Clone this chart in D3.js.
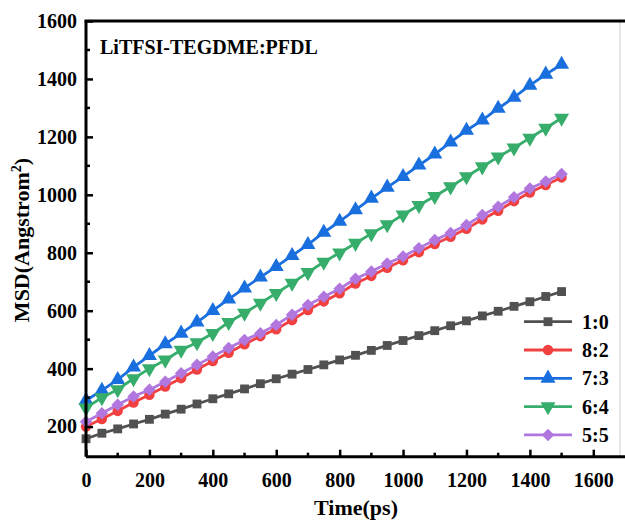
<!DOCTYPE html>
<html>
<head>
<meta charset="utf-8">
<script src="https://cdn.jsdelivr.net/npm/d3@7"></script>
<style>
  body { margin: 0; background: #fff; }
  svg text { font-family: "Liberation Serif", "Times New Roman", serif; font-weight: bold; fill: #000; }
</style>
</head>
<body>
<div id="chart"></div>
<script>
"use strict";

// time points (ps)
var times = [0, 50, 100, 150, 200, 250, 300, 350, 400, 450, 500, 550, 600, 650, 700, 750,
             800, 850, 900, 950, 1000, 1050, 1100, 1150, 1200, 1250, 1300, 1350, 1400, 1450, 1500];

// MSD values
var msd10 = [158, 177, 192, 209, 225, 243, 260, 278, 296, 313, 330, 348, 365, 381, 397, 413,
             430, 446, 463, 480, 497, 514, 531, 548, 565, 582, 598, 615, 631, 649, 666];
var msd82 = [200, 226, 254, 283, 310, 338, 367, 397, 426, 455, 484, 512, 536, 568, 602, 632,
             660, 694, 720, 748, 774, 802, 830, 855, 883, 915, 945, 978, 1008, 1034, 1060];
var msd73 = [290, 325, 362, 405, 445, 485, 522, 560, 600, 640, 678, 716, 752, 790, 828, 870,
             908, 948, 988, 1026, 1063, 1102, 1140, 1182, 1222, 1258, 1298, 1336, 1378, 1416, 1450];
var msd64 = [265, 300, 328, 366, 400, 430, 464, 490, 522, 560, 592, 626, 660, 695, 732, 768,
             800, 833, 866, 897, 931, 964, 995, 1028, 1063, 1097, 1131, 1162, 1196, 1230, 1265];
var msd55 = [217, 246, 275, 304, 327, 355, 384, 413, 442, 471, 499, 522, 551, 586, 620, 648,
             676, 710, 735, 763, 787, 816, 844, 868, 896, 930, 959, 992, 1022, 1046, 1072];

var seriesNames = ["1:0", "8:2", "7:3", "6:4", "5:5"];
var seriesValues = [msd10, msd82, msd73, msd64, msd55];
var seriesColors = ["#515151", "#F14040", "#1A6FDF", "#37AD6B", "#B177DE"];

var xTicks = [0, 200, 400, 600, 800, 1000, 1200, 1400, 1600];
var yTicks = [200, 400, 600, 800, 1000, 1200, 1400, 1600];

var W = 625, H = 521;
var plotLeft = 86, plotTop = 21, plotBottom = 456.7;

var x = d3.scaleLinear().domain([0, 1700]).range([plotLeft, 625]);
var y = d3.scaleLinear().domain([96, 1600]).range([plotBottom, plotTop]);

var svg = d3.select("#chart").append("svg")
  .attr("width", W).attr("height", H);

// marker shapes for each series
function markerPath(i) {
  if (i === 0) return d3.symbol(d3.symbolSquare, 78)();
  if (i === 1) return d3.symbol(d3.symbolCircle, 85)();
  if (i === 2 || i === 3) return d3.symbol(d3.symbolTriangle, 98)();
  return d3.symbol(d3.symbolSquare, 78)();
}
function markerRot(i) {
  if (i === 3) return 180;
  if (i === 4) return 45;
  return 0;
}

// faint right edge
svg.append("line")
  .attr("x1", 620).attr("x2", 620).attr("y1", plotTop).attr("y2", plotBottom)
  .attr("stroke", "#d0d0d0").attr("stroke-width", 1);

// series
var line = d3.line()
  .x(function(d) { return x(d[0]); })
  .y(function(d) { return y(d[1]); });

seriesValues.forEach(function(vals, i) {
  var pts = times.map(function(t, k) { return [t, vals[k]]; });
  var g = svg.append("g");
  g.append("path")
    .datum(pts)
    .attr("d", line)
    .attr("fill", "none")
    .attr("stroke", seriesColors[i])
    .attr("stroke-width", 2.8);
  g.selectAll("path.mk").data(pts)
    .join("path")
      .attr("class", "mk")
      .attr("d", markerPath(i))
      .attr("transform", function(d) {
        return "translate(" + x(d[0]) + "," + y(d[1]) + ") rotate(" + markerRot(i) + ")";
      })
      .attr("fill", seriesColors[i]);
});

// axes, ticks inward
var xAxis = d3.axisBottom(x).tickValues(xTicks).tickSize(-7).tickPadding(16)
  .tickFormat(d3.format("d"));
var gx = svg.append("g")
  .attr("transform", "translate(0," + plotBottom + ")")
  .call(xAxis);
var xMinor = d3.range(100, 1700, 200);
gx.selectAll(".minor").data(xMinor).join("line")
  .attr("class", "minor")
  .attr("x1", d => x(d)).attr("x2", d => x(d))
  .attr("y1", 0).attr("y2", -4)
  .attr("stroke", "#000").attr("stroke-width", 2.5);

var yAxis = d3.axisLeft(y).tickValues(yTicks).tickSize(-7).tickPadding(9)
  .tickFormat(d3.format("d"));
var gy = svg.append("g")
  .attr("transform", "translate(" + plotLeft + ",0)")
  .call(yAxis);
var yMinor = d3.range(300, 1600, 200);
gy.selectAll(".minor").data(yMinor).join("line")
  .attr("class", "minor")
  .attr("x1", 0).attr("x2", 4)
  .attr("y1", d => y(d)).attr("y2", d => y(d))
  .attr("stroke", "#000").attr("stroke-width", 2.5);

[gx, gy].forEach(function(g) {
  g.select(".domain").attr("stroke", "#000").attr("stroke-width", 3);
  g.selectAll(".tick line").attr("stroke", "#000").attr("stroke-width", 2.5);
  g.selectAll(".tick text")
    .style("font-family", "'Liberation Serif', serif")
    .style("font-weight", "bold")
    .style("font-size", "20px")
    .attr("fill", "#000");
});
gx.select(".domain").attr("d", "M" + plotLeft + ",0H625");
gy.select(".domain").attr("d", "M0," + plotBottom + "V" + plotTop);

// top border
svg.append("line")
  .attr("x1", plotLeft - 1.5).attr("x2", 625).attr("y1", plotTop).attr("y2", plotTop)
  .attr("stroke", "#000").attr("stroke-width", 3);

// annotation
svg.append("text")
  .attr("x", 100).attr("y", 54)
  .style("font-size", "20px")
  .text("LiTFSI-TEGDME:PFDL");

// axis titles
svg.append("text")
  .attr("x", 356).attr("y", 515)
  .attr("text-anchor", "middle")
  .style("font-size", "22px")
  .text("Time(ps)");

var yt = svg.append("text")
  .attr("transform", "translate(29,240) rotate(-90)")
  .attr("text-anchor", "middle")
  .style("font-size", "22px");
yt.append("tspan").text("MSD(Angstrom");
yt.append("tspan").attr("dy", -8).style("font-size", "14px").text("2");
yt.append("tspan").attr("dy", 8).text(")");

// legend
var legY = [321.7, 350, 378.3, 406.6, 434.9];
var leg = svg.append("g");
seriesNames.forEach(function(name, i) {
  var ly = legY[i];
  leg.append("line")
    .attr("x1", 524).attr("x2", 572).attr("y1", ly).attr("y2", ly)
    .attr("stroke", seriesColors[i]).attr("stroke-width", 2.8);
  leg.append("path")
    .attr("d", markerPath(i))
    .attr("transform", "translate(548," + ly + ") rotate(" + markerRot(i) + ")")
    .attr("fill", seriesColors[i]);
  leg.append("text")
    .attr("x", 582).attr("y", ly + 7)
    .style("font-size", "20px")
    .text(name);
});
</script>
</body>
</html>
